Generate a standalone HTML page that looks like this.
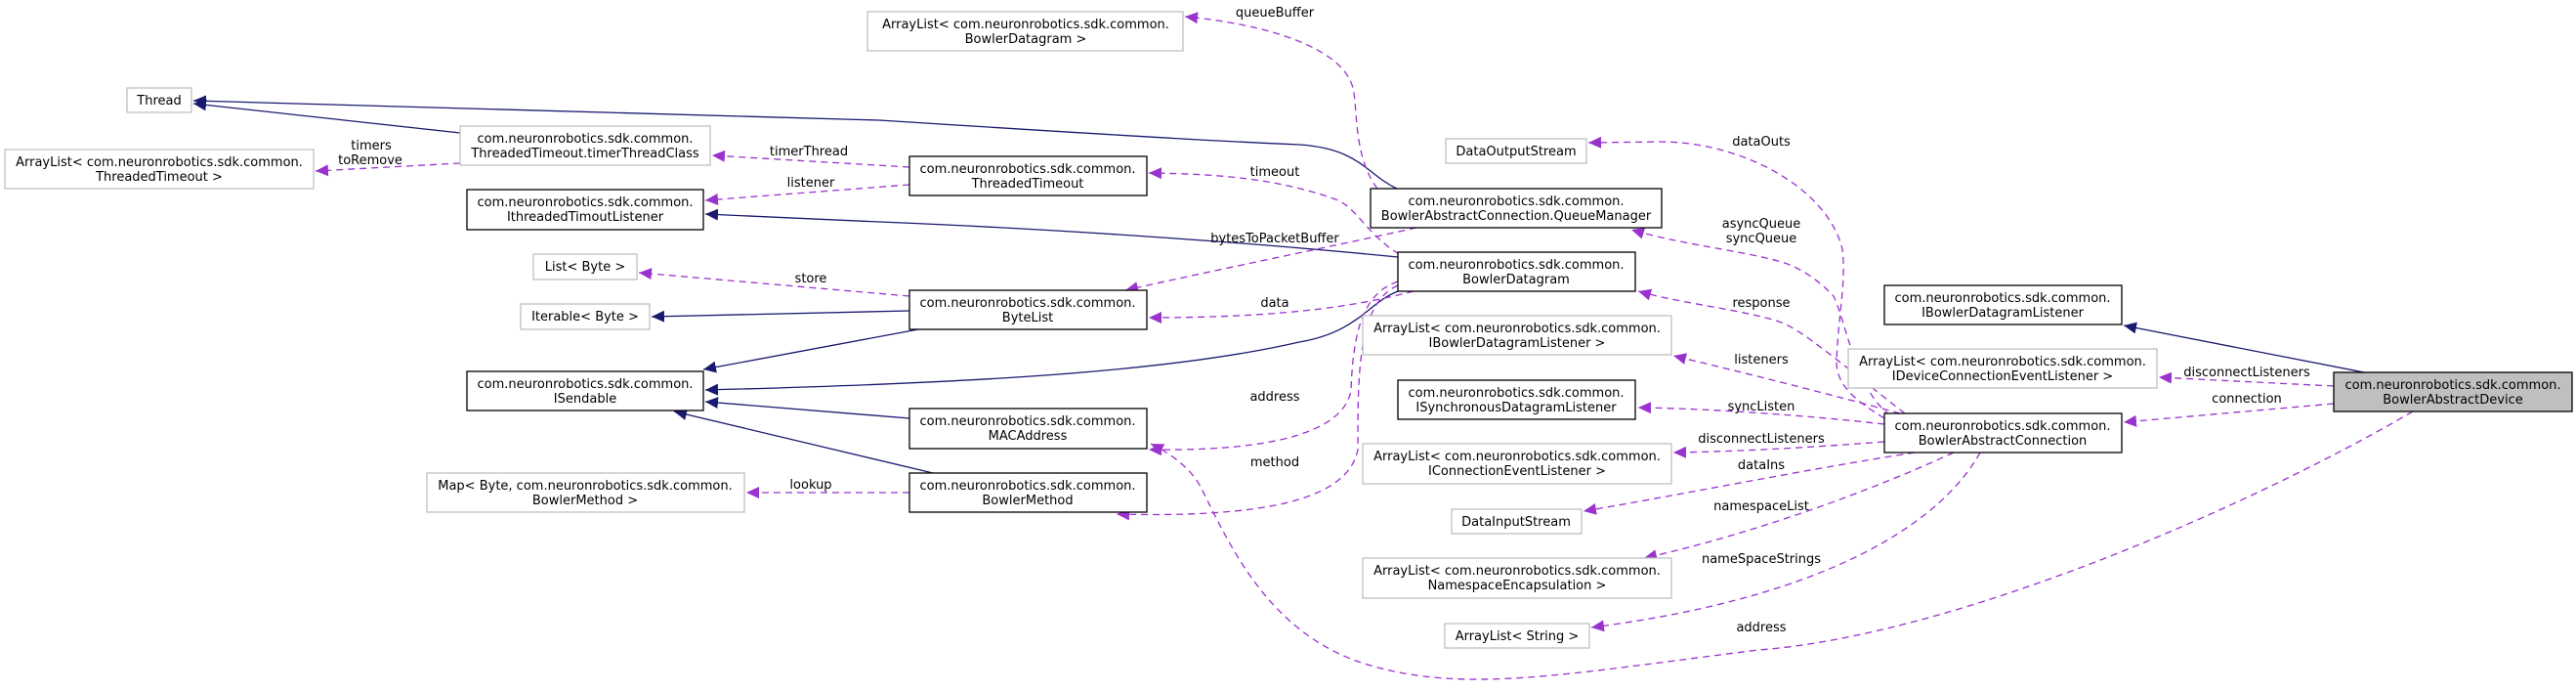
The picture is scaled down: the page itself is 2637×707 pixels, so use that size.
<!DOCTYPE html>
<html><head><meta charset="utf-8"><style>
html,body{margin:0;padding:0;background:#fff;}
svg{display:block;}
text{font-family:"DejaVu Sans","Liberation Sans",sans-serif;font-size:13px;fill:#000;}
.n{text-anchor:middle;}
.g{fill:#fff;stroke:#bfbfbf;stroke-width:1.3;}
.b{fill:#fff;stroke:#000;stroke-width:1.3;}
.s{fill:none;stroke:#191970;stroke-width:1.3;marker-end:url(#ab);}
.d{fill:none;stroke:#9a32cd;stroke-width:1.3;stroke-dasharray:7,5;marker-end:url(#ap);}
</style></head><body>
<svg width="2637" height="707" viewBox="0 0 2637 707" xmlns="http://www.w3.org/2000/svg">
<defs>
<marker id="ab" markerUnits="userSpaceOnUse" markerWidth="14" markerHeight="12" refX="13" refY="6" orient="auto"><path d="M0,0 L13,6 L0,12 z" fill="#191970"/></marker>
<marker id="ap" markerUnits="userSpaceOnUse" markerWidth="14" markerHeight="12" refX="13" refY="6" orient="auto"><path d="M0,0 L13,6 L0,12 z" fill="#9a32cd"/></marker>
</defs>

<!-- edges -->
<path class="s" d="M1430,193 C1398,178 1392,152 1330,148 C1260,145 1200,142 900,123 L198,103"/>
<path class="s" d="M471,136 L198,106"/>
<path class="d" d="M471,167 L323,175"/>
<path class="d" d="M931,171 L729,159"/>
<path class="d" d="M931,189 L722,205"/>
<path class="s" d="M1431,263 C1300,250 1100,235 900,227 L722,219"/>
<path class="d" d="M931,303 L654,279"/>
<path class="s" d="M931,318 L667,324"/>
<path class="s" d="M940,337 L720,378"/>
<path class="s" d="M1431,298 C1400,310 1390,340 1330,350 C1200,380 1000,392 722,399"/>
<path class="s" d="M931,428 L722,411"/>
<path class="s" d="M955,484 L690,421"/>
<path class="d" d="M931,504 L764,504"/>
<path class="d" d="M1410,193 C1385,160 1390,110 1385,90 C1375,50 1300,25 1213,17"/>
<path class="d" d="M1432,260 C1400,240 1390,215 1370,205 C1310,183 1250,178 1176,177"/>
<path class="d" d="M1450,233 C1350,255 1250,275 1152,297"/>
<path class="d" d="M1447,298 C1400,310 1330,325 1176,325"/>
<path class="d" d="M1431,288 C1395,300 1385,340 1383,400 C1375,440 1310,462 1176,460"/>
<path class="d" d="M1431,292 C1390,310 1390,380 1390,460 C1380,510 1300,530 1143,526"/>
<path class="d" d="M2470,421 C2300,520 2000,650 1800,665 C1600,690 1500,710 1400,680 C1300,650 1260,560 1230,500 C1220,480 1200,465 1178,454"/>
<path class="s" d="M2420,381 L2174,333"/>
<path class="d" d="M2389,395 L2210,386"/>
<path class="d" d="M2389,413 L2174,432"/>
<path class="d" d="M1929,428 C1900,410 1880,395 1880,370 C1882,320 1890,290 1886,255 C1870,190 1780,145 1700,145 L1626,146"/>
<path class="d" d="M1935,425 C1900,400 1890,330 1877,303 C1860,285 1840,272 1820,267 C1780,256 1720,250 1670,235"/>
<path class="d" d="M1950,423 C1920,400 1890,375 1870,360 C1850,345 1835,333 1815,327 C1770,315 1720,310 1677,298"/>
<path class="d" d="M1945,423 C1880,405 1780,380 1713,364"/>
<path class="d" d="M1929,434 C1850,425 1750,418 1677,417"/>
<path class="d" d="M1929,452 C1850,458 1780,462 1713,463"/>
<path class="d" d="M1960,463 C1850,480 1700,510 1621,523"/>
<path class="d" d="M2000,463 C1920,500 1800,545 1683,571"/>
<path class="d" d="M2027,463 C1990,530 1880,610 1629,642"/>

<!-- edge labels -->
<text x="1305" y="17" class="n">queueBuffer</text>
<text x="1305" y="180" class="n">timeout</text>
<text x="1305" y="248" class="n">bytesToPacketBuffer</text>
<text x="1305" y="314" class="n">data</text>
<text x="1305" y="410" class="n">address</text>
<text x="1305" y="477" class="n">method</text>
<text x="828" y="159" class="n">timerThread</text>
<text x="830" y="191" class="n">listener</text>
<text x="830" y="289" class="n">store</text>
<text x="380" y="153" class="n">timers</text>
<text x="379" y="168" class="n">toRemove</text>
<text x="830" y="500" class="n">lookup</text>
<text x="2300" y="385" class="n">disconnectListeners</text>
<text x="2300" y="412" class="n">connection</text>
<text x="1803" y="646" class="n">address</text>
<text x="1803" y="149" class="n">dataOuts</text>
<text x="1803" y="233" class="n">asyncQueue</text>
<text x="1803" y="248" class="n">syncQueue</text>
<text x="1803" y="314" class="n">response</text>
<text x="1803" y="372" class="n">listeners</text>
<text x="1803" y="420" class="n">syncListen</text>
<text x="1803" y="453" class="n">disconnectListeners</text>
<text x="1803" y="480" class="n">dataIns</text>
<text x="1803" y="522" class="n">namespaceList</text>
<text x="1803" y="576" class="n">nameSpaceStrings</text>

<!-- nodes -->
<rect class="g" x="130" y="90" width="66" height="25"/><text class="n" x="163" y="107">Thread</text>
<rect class="g" x="471" y="129" width="256" height="40"/><text class="n" x="599" y="146">com.neuronrobotics.sdk.common.</text><text class="n" x="599" y="161">ThreadedTimeout.timerThreadClass</text>
<rect class="g" x="5" y="153" width="316" height="40"/><text class="n" x="163" y="170">ArrayList&lt; com.neuronrobotics.sdk.common.</text><text class="n" x="163" y="185">ThreadedTimeout &gt;</text>
<rect class="b" x="478" y="194" width="242" height="41"/><text class="n" x="599" y="211">com.neuronrobotics.sdk.common.</text><text class="n" x="599" y="226">IthreadedTimoutListener</text>
<rect class="g" x="546" y="260" width="106" height="26"/><text class="n" x="599" y="277">List&lt; Byte &gt;</text>
<rect class="g" x="533" y="311" width="132" height="26"/><text class="n" x="599" y="328">Iterable&lt; Byte &gt;</text>
<rect class="b" x="478" y="380" width="242" height="40"/><text class="n" x="599" y="397">com.neuronrobotics.sdk.common.</text><text class="n" x="599" y="412">ISendable</text>
<rect class="g" x="437" y="484" width="325" height="40"/><text class="n" x="599" y="501">Map&lt; Byte, com.neuronrobotics.sdk.common.</text><text class="n" x="599" y="516">BowlerMethod &gt;</text>

<rect class="g" x="888" y="12" width="323" height="40"/><text class="n" x="1050" y="29">ArrayList&lt; com.neuronrobotics.sdk.common.</text><text class="n" x="1050" y="44">BowlerDatagram &gt;</text>
<rect class="b" x="931" y="160" width="243" height="40"/><text class="n" x="1052" y="177">com.neuronrobotics.sdk.common.</text><text class="n" x="1052" y="192">ThreadedTimeout</text>
<rect class="b" x="931" y="297" width="243" height="40"/><text class="n" x="1052" y="314">com.neuronrobotics.sdk.common.</text><text class="n" x="1052" y="329">ByteList</text>
<rect class="b" x="931" y="418" width="243" height="41"/><text class="n" x="1052" y="435">com.neuronrobotics.sdk.common.</text><text class="n" x="1052" y="450">MACAddress</text>
<rect class="b" x="931" y="484" width="243" height="40"/><text class="n" x="1052" y="501">com.neuronrobotics.sdk.common.</text><text class="n" x="1052" y="516">BowlerMethod</text>

<rect class="g" x="1480" y="142" width="144" height="25"/><text class="n" x="1552" y="159">DataOutputStream</text>
<rect class="b" x="1403" y="193" width="298" height="40"/><text class="n" x="1552" y="210">com.neuronrobotics.sdk.common.</text><text class="n" x="1552" y="225">BowlerAbstractConnection.QueueManager</text>
<rect class="b" x="1431" y="258" width="243" height="40"/><text class="n" x="1552" y="275">com.neuronrobotics.sdk.common.</text><text class="n" x="1552" y="290">BowlerDatagram</text>
<rect class="g" x="1395" y="323" width="316" height="40"/><text class="n" x="1553" y="340">ArrayList&lt; com.neuronrobotics.sdk.common.</text><text class="n" x="1553" y="355">IBowlerDatagramListener &gt;</text>
<rect class="b" x="1431" y="389" width="243" height="40"/><text class="n" x="1552" y="406">com.neuronrobotics.sdk.common.</text><text class="n" x="1552" y="421">ISynchronousDatagramListener</text>
<rect class="g" x="1395" y="454" width="316" height="41"/><text class="n" x="1553" y="471">ArrayList&lt; com.neuronrobotics.sdk.common.</text><text class="n" x="1553" y="486">IConnectionEventListener &gt;</text>
<rect class="g" x="1486" y="521" width="133" height="25"/><text class="n" x="1552" y="538">DataInputStream</text>
<rect class="g" x="1395" y="571" width="316" height="41"/><text class="n" x="1553" y="588">ArrayList&lt; com.neuronrobotics.sdk.common.</text><text class="n" x="1553" y="603">NamespaceEncapsulation &gt;</text>
<rect class="g" x="1479" y="638" width="148" height="25"/><text class="n" x="1553" y="655">ArrayList&lt; String &gt;</text>

<rect class="b" x="1929" y="292" width="243" height="40"/><text class="n" x="2050" y="309">com.neuronrobotics.sdk.common.</text><text class="n" x="2050" y="324">IBowlerDatagramListener</text>
<rect class="g" x="1892" y="357" width="316" height="40"/><text class="n" x="2050" y="374">ArrayList&lt; com.neuronrobotics.sdk.common.</text><text class="n" x="2050" y="389">IDeviceConnectionEventListener &gt;</text>
<rect class="b" x="1929" y="423" width="243" height="40"/><text class="n" x="2050" y="440">com.neuronrobotics.sdk.common.</text><text class="n" x="2050" y="455">BowlerAbstractConnection</text>
<rect x="2389" y="381" width="244" height="40" fill="#bfbfbf" stroke="#000" stroke-width="1.3"/><text class="n" x="2511" y="398">com.neuronrobotics.sdk.common.</text><text class="n" x="2511" y="413">BowlerAbstractDevice</text>
</svg>
</body></html>
